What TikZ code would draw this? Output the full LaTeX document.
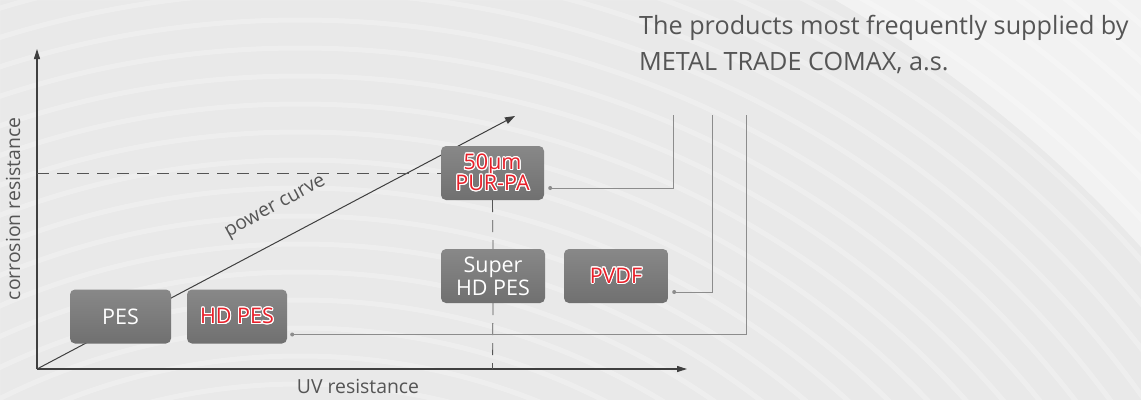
\documentclass[tikz,border=0pt]{standalone}
\usepackage{fontspec}
\setmainfont{Open Sans}
\usepackage[copies]{contour}
\contourlength{1pt}
\usetikzlibrary{arrows.meta}
\definecolor{bg}{HTML}{E9E9E9}
\definecolor{txt}{HTML}{555555}
\definecolor{axiscol}{HTML}{3F3F3F}
\definecolor{conncol}{HTML}{8C8C8C}
\definecolor{boxtop}{HTML}{888888}
\definecolor{boxbot}{HTML}{707070}
\definecolor{lblred}{HTML}{E8202A}
\newcommand{\redlbl}[1]{\contour{white}{\textcolor{lblred}{#1}}}
\begin{document}
\begin{tikzpicture}[x=1pt,y=-1pt,
  prodbox/.style={rounded corners=5pt, top color=boxtop, bottom color=boxbot, draw=none,
    minimum width=102pt, minimum height=54pt, text=white,
    font=\fontsize{21.5}{23}\selectfont, align=center, inner sep=0pt},
  axisline/.style={draw=axiscol, line width=1.1pt, -{Triangle[length=10pt,width=6pt]}},
  guide/.style={draw=txt, line width=0.8pt, dash pattern=on 12pt off 8pt},
  connline/.style={draw=conncol, line width=1pt},
  dotmark/.style={fill=conncol},
  axislabel/.style={text=txt, font=\fontsize{19.4}{22}\selectfont, inner sep=0pt},
  title/.style={text=txt, font=\fontsize{25.2}{36}\selectfont, align=left, inner sep=0pt}
]
\useasboundingbox (0,0) rectangle (1141,400);
\fill[bg] (0,0) rectangle (1141,400);
\begin{scope}
\clip (0,0) rectangle (1141,400);
\foreach \r in {560,588,...,1400}{
  \draw[white, opacity=0.25, line width=5pt] (300,1000) circle (\r);
}
\fill[white, opacity=0.45, even odd rule] (0,0) rectangle (1141,400) (200,1100) circle (1270);
\end{scope}

% axes
\coordinate (O) at (37,369);
\coordinate (ytop) at (37,49);
\coordinate (xend) at (687,369);
\coordinate (ptip) at (515,116);
\draw[axisline] (O) -- (ytop);
\draw[axisline] (O) -- (xend);
\draw[axisline, line width=1pt, -{Triangle[length=10pt,width=7pt]}] (O) -- (ptip);

% boxes
\node[prodbox, minimum width=101pt] (pes) at (120.5,316.5) {PES};
\node[prodbox, minimum width=100pt] (hdpes) at (237,316.5) {\redlbl{HD PES}};
\node[prodbox, minimum width=103pt] (pur) at (492.5,173) {\redlbl{50µm}\\[-2pt]\redlbl{PUR-PA}};
\node[prodbox, minimum width=104pt] (super) at (493,276) {Super\\HD PES};
\node[prodbox, minimum width=104pt] (pvdf) at (616,276) {\redlbl{PVDF}};

% guides
\coordinate (yg) at (37,173);
\coordinate (xg) at (492.5,369);
\draw[guide] (yg) -- (pur.west);
\draw[guide] (pur.south) -- (super.north);
\draw[guide] (super.south) -- (xg);

% labels
\node[axislabel, rotate=90] (ylab) at (13,209) {corrosion resistance};
\node[axislabel] (xlab) at (358,386) {UV resistance};
\node[axislabel, rotate=28.5] (plab) at (276,208) {power curve};
\node[title, anchor=base west] (ttl) at (639,70) {The products most frequently supplied by\\METAL TRADE COMAX, a.s.};

% connectors
\coordinate (t1) at (673,115);
\coordinate (t2) at (712,115);
\coordinate (t3) at (746,115);
\coordinate (d1) at ([shift={(6,15)}]pur.east);
\coordinate (d2) at ([shift={(6,16)}]pvdf.east);
\coordinate (d3) at ([shift={(5,18)}]hdpes.east);
\draw[connline] (d1) -| (t1);
\draw[connline] (d2) -| (t2);
\draw[connline] (d3) -| (t3);
\fill[dotmark] (d1) circle (2pt);
\fill[dotmark] (d2) circle (2pt);
\fill[dotmark] (d3) circle (2pt);
\end{tikzpicture}
\end{document}
